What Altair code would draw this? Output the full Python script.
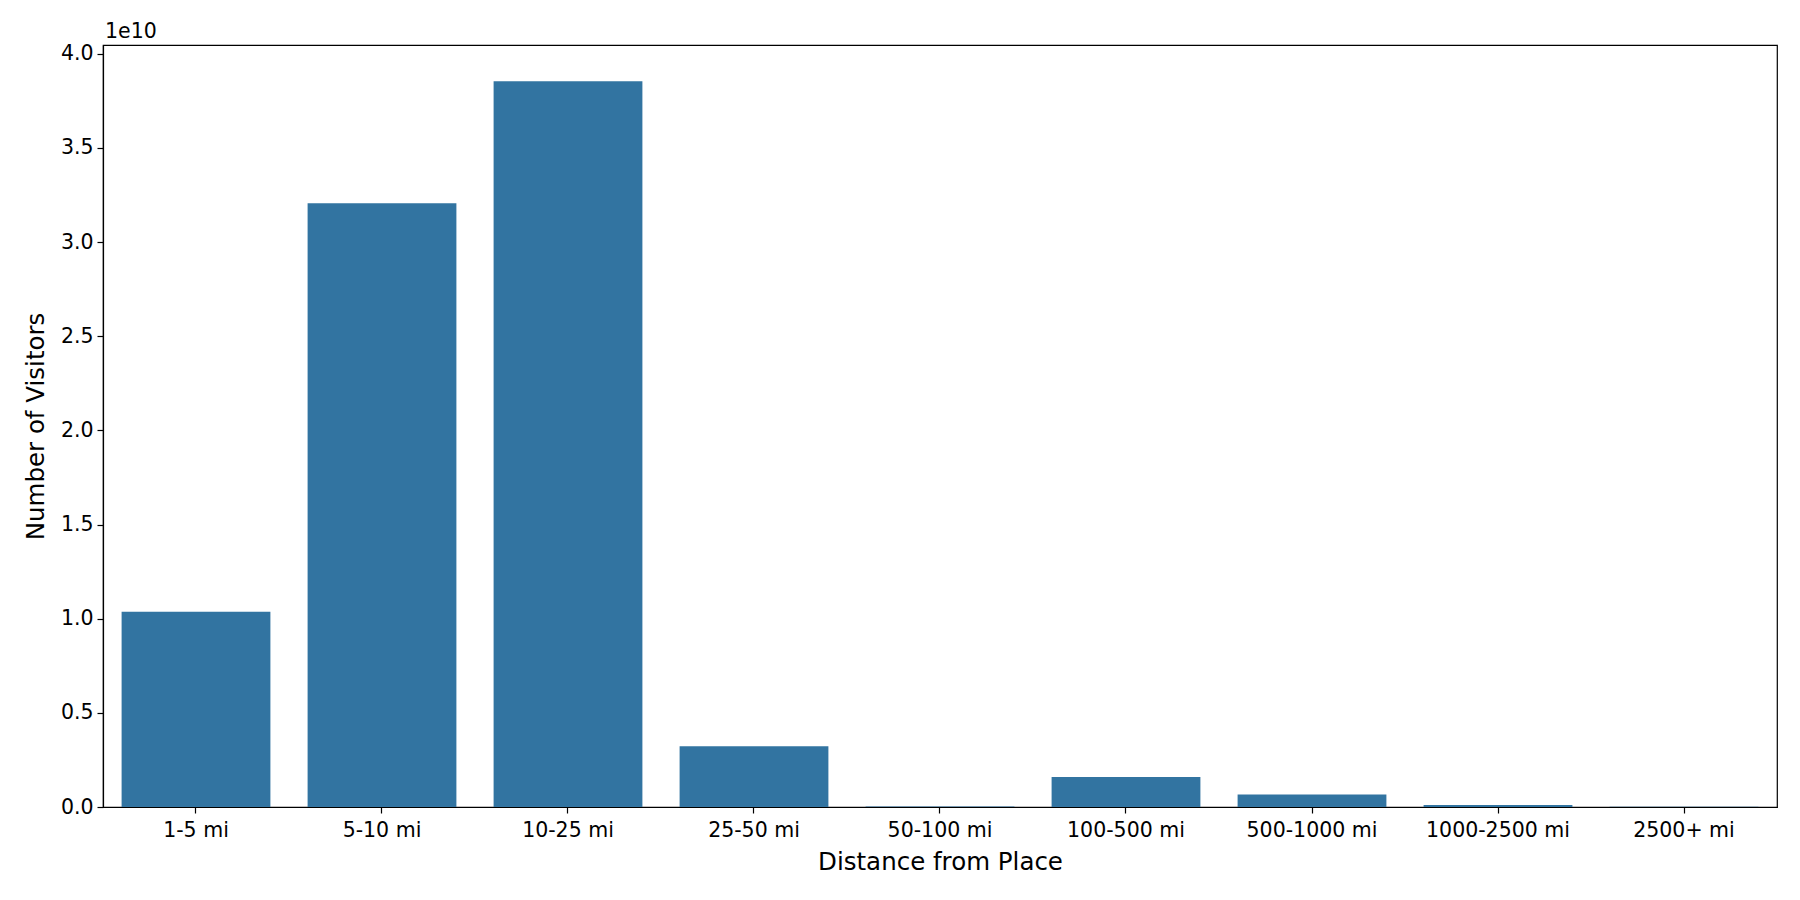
import altair as alt
import pandas as pd

categories = ["1-5 mi", "5-10 mi", "10-25 mi", "25-50 mi", "50-100 mi",
              "100-500 mi", "500-1000 mi", "1000-2500 mi", "2500+ mi"]
visitors = [1.037e10, 3.207e10, 3.854e10, 0.323e10, 0.002e10,
            0.159e10, 0.067e10, 0.010e10, 0.001e10]
y_ticks = [0, 0.5e10, 1.0e10, 1.5e10, 2.0e10, 2.5e10, 3.0e10, 3.5e10, 4.0e10]

df = pd.DataFrame({"Distance": categories, "Visitors": visitors})
FONT = "DejaVu Sans"

bars = alt.Chart(df).mark_bar(color="#3274a1").encode(
    x=alt.X("Distance:N", sort=categories,
            scale=alt.Scale(paddingInner=0.2, paddingOuter=0.1),
            axis=alt.Axis(title="Distance from Place", labelAngle=0,
                          labelPadding=7, titlePadding=10)),
    y=alt.Y("Visitors:Q", scale=alt.Scale(domain=[0, 4.047e10], nice=False, zero=True),
            axis=alt.Axis(title="Number of Visitors", values=y_ticks,
                          labelExpr="format(datum.value / 1e10, '.1f')",
                          labelPadding=4, titlePadding=12)),
)

offset = alt.Chart(pd.DataFrame({"t": ["1e10"]})).mark_text(
    align="left", baseline="alphabetic", fontSize=20.5, font=FONT, color="black"
).encode(x=alt.value(2), y=alt.value(-7), text="t:N")

chart = alt.layer(bars, offset).properties(
    width=1674, height=762,
    background="white",
    autosize=alt.AutoSizeParams(type="none"),
    padding={"left": 95, "top": 37, "right": 15, "bottom": 85},
).configure_view(
    stroke="black", strokeWidth=1.2
).configure_axis(
    domainColor="black", domainWidth=1.2, tickColor="black", tickWidth=1.2,
    tickSize=6, labelColor="black", titleColor="black",
    labelFont=FONT, titleFont=FONT, labelFontSize=20.5, titleFontSize=24.5,
    titleFontWeight="normal", grid=False
)

chart.save("out.html", embed_options={"renderer": "svg", "actions": False})
